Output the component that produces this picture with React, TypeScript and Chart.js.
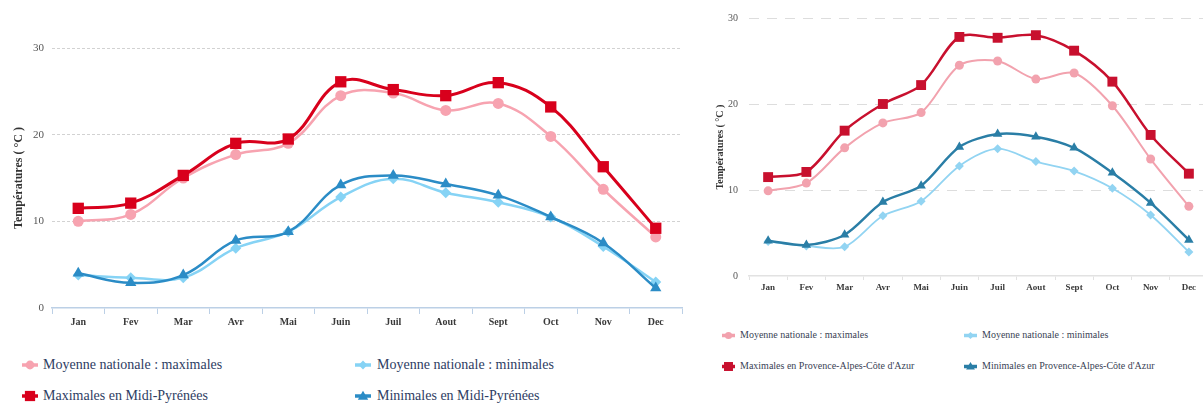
import React, { useEffect, useRef } from "react";
import { Chart, registerables } from "chart.js";
Chart.register(...registerables);

const months = ["Jan", "Fev", "Mar", "Avr", "Mai", "Juin", "Juil", "Aout", "Sept", "Oct", "Nov", "Dec"];
const yTicks = [0, 10, 20, 30];
const yTitle = "Températures ( °C )";

// Left chart: Midi-Pyrénées
const natMaxLeft = [10.0, 10.8, 15.0, 17.7, 19.0, 24.5, 24.8, 22.8, 23.6, 19.8, 13.7, 8.2];
const natMinLeft = [3.8, 3.5, 3.5, 6.9, 8.8, 12.8, 14.9, 13.3, 12.2, 10.5, 7.1, 3.0];
const midiMax = [11.5, 12.1, 15.3, 19.0, 19.5, 26.1, 25.2, 24.5, 26.0, 23.2, 16.3, 9.2];
const midiMin = [4.0, 2.9, 3.8, 7.8, 8.8, 14.2, 15.3, 14.3, 13.0, 10.5, 7.5, 2.3];
const leftLabels = [
  "Moyenne nationale : maximales",
  "Moyenne nationale : minimales",
  "Maximales en Midi-Pyrénées",
  "Minimales en Midi-Pyrénées",
];

// Right chart: Provence-Alpes-Côte d'Azur
const natMaxRight = [9.9, 10.8, 14.9, 17.8, 19.0, 24.5, 25.0, 22.9, 23.6, 19.8, 13.6, 8.1];
const natMinRight = [4.0, 3.5, 3.4, 7.0, 8.7, 12.8, 14.8, 13.3, 12.2, 10.2, 7.1, 2.8];
const pacaMax = [11.5, 12.1, 16.9, 20.0, 22.2, 27.8, 27.7, 28.0, 26.2, 22.6, 16.4, 11.9];
const pacaMin = [4.1, 3.6, 4.8, 8.6, 10.5, 15.0, 16.5, 16.2, 14.9, 12.0, 8.5, 4.2];
const rightLabels = [
  "Moyenne nationale : maximales",
  "Moyenne nationale : minimales",
  "Maximales en Provence-Alpes-Côte d'Azur",
  "Minimales en Provence-Alpes-Côte d'Azur",
];

const FONT = "'Liberation Serif', 'DejaVu Serif', serif";

type Style = {
  color: string;
  width: number;
  shape: string;
  radius: number;
};

type ChartProps = {
  left: number;
  top: number;
  width: number;
  height: number;
  clipWidth: number;
  series: number[][];
  labels: string[];
  styles: Style[];
  yAxisWidth: number;
  xAxisHeight: number;
  padTop: number;
  padRight: number;
  tension: number;
  gridDash: number[];
  gridColor: string;
  axisColor: string;
  tickFont: number;
  titleFont: number;
  titlePad: number;
  yPad: number;
  xTickLen: number;
};

function LineChart(p: ChartProps) {
  const ref = useRef<HTMLCanvasElement | null>(null);
  useEffect(() => {
    if (!ref.current) return;
    // draw order: regional series on top of national ones
    const order = [2, 3, 0, 1];
    const datasets = order.map((i) => ({
      label: p.labels[i],
      data: p.series[i],
      borderColor: p.styles[i].color,
      backgroundColor: p.styles[i].color,
      borderWidth: p.styles[i].width,
      pointStyle: p.styles[i].shape as any,
      pointRadius: p.styles[i].radius,
      pointBorderWidth: 0,
      tension: p.tension,
      fill: false,
    }));
    const chart = new Chart(ref.current, {
      type: "line",
      data: { labels: months, datasets },
      options: {
        animation: false,
        responsive: false,
        maintainAspectRatio: false,
        layout: { padding: { top: p.padTop, right: p.padRight, left: 0, bottom: 0 } },
        plugins: { legend: { display: false }, tooltip: { enabled: false } },
        scales: {
          x: {
            offset: true,
            grid: {
              offset: true,
              drawOnChartArea: false,
              drawTicks: true,
              tickLength: p.xTickLen,
              color: p.axisColor,
            },
            border: { display: true, color: p.axisColor, width: 1.5 },
            ticks: {
              color: "#3a3a3a",
              font: { family: FONT, size: p.tickFont, weight: "bold" },
              padding: 2,
              maxRotation: 0,
              autoSkip: false,
            },
            afterFit: (s: any) => {
              s.height = p.xAxisHeight;
            },
          },
          y: {
            min: yTicks[0],
            max: yTicks[yTicks.length - 1],
            afterBuildTicks: (s: any) => {
              s.ticks = yTicks.map((v) => ({ value: v }));
            },
            grid: {
              drawTicks: false,
              color: (ctx: any) => (ctx.tick && ctx.tick.value === 0 ? "rgba(0,0,0,0)" : p.gridColor),
              lineWidth: 1,
            },
            border: { display: false, dash: p.gridDash },
            ticks: {
              color: "#555",
              font: { family: FONT, size: p.tickFont + 1 },
              padding: p.yPad,
            },
            title: {
              display: true,
              text: yTitle,
              color: "#333",
              font: { family: FONT, size: p.titleFont, weight: "bold" },
              padding: { top: p.titlePad, bottom: 0 },
            },
            afterFit: (s: any) => {
              s.width = p.yAxisWidth;
            },
          },
        },
      },
    });
    return () => chart.destroy();
  }, []);
  return (
    <div
      style={{
        position: "absolute",
        left: p.left,
        top: p.top,
        width: p.clipWidth,
        height: p.height,
        overflow: "hidden",
      }}
    >
      <canvas ref={ref} width={p.width} height={p.height} style={{ width: p.width, height: p.height, display: "block" }} />
    </div>
  );
}

function Marker({ s, size }: { s: Style; size: number }) {
  const c = size / 2;
  const r = s.radius * 0.8;
  let shape: any = null;
  if (s.shape === "circle") shape = <circle cx={c} cy={c} r={r} fill={s.color} />;
  else if (s.shape === "rect")
    shape = <rect x={c - r * 0.8} y={c - r * 0.8} width={r * 1.6} height={r * 1.6} fill={s.color} />;
  else if (s.shape === "rectRot")
    shape = <polygon points={`${c},${c - r} ${c + r},${c} ${c},${c + r} ${c - r},${c}`} fill={s.color} />;
  else
    shape = (
      <polygon points={`${c},${c - r} ${c + r},${c + r * 0.7} ${c - r},${c + r * 0.7}`} fill={s.color} />
    );
  return (
    <svg width={size} height={size} style={{ position: "absolute", left: -size / 2, top: -size / 2 }}>
      <line x1={0} y1={c} x2={size} y2={c} stroke={s.color} strokeWidth={3.5} />
      {shape}
    </svg>
  );
}

type LegendPos = { x: number; y: number; tx: number };

function Legend({
  labels,
  styles,
  pos,
  font,
  color,
  size,
}: {
  labels: string[];
  styles: Style[];
  pos: LegendPos[];
  font: number;
  color: string;
  size: number;
}) {
  return (
    <>
      {labels.map((l, i) => (
        <div key={i}>
          <div style={{ position: "absolute", left: pos[i].x, top: pos[i].y }}>
            <Marker s={styles[i]} size={size} />
          </div>
          <div
            style={{
              position: "absolute",
              left: pos[i].tx,
              top: pos[i].y - font * 0.6,
              fontFamily: FONT,
              fontSize: font,
              color,
              whiteSpace: "nowrap",
              lineHeight: `${font * 1.2}px`,
            }}
          >
            {l}
          </div>
        </div>
      ))}
    </>
  );
}

const leftStyles: Style[] = [
  { color: "#f7a3b0", width: 2.5, shape: "circle", radius: 5.5 },
  { color: "#86d3f5", width: 2.5, shape: "rectRot", radius: 5.5 },
  { color: "#d8001c", width: 3, shape: "rect", radius: 8 },
  { color: "#2b8cc6", width: 2.5, shape: "triangle", radius: 6.5 },
];
const rightStyles: Style[] = [
  { color: "#f2a2ae", width: 2, shape: "circle", radius: 4.5 },
  { color: "#92d4f2", width: 1.8, shape: "rectRot", radius: 4.5 },
  { color: "#c8102e", width: 2.5, shape: "rect", radius: 7 },
  { color: "#2a7ea6", width: 2.5, shape: "triangle", radius: 5.5 },
];

export default function App() {
  return (
    <div style={{ position: "absolute", left: 0, top: 0, width: 1203, height: 405, background: "#fff", overflow: "hidden" }}>
      <LineChart
        left={0}
        top={0}
        width={690}
        height={340}
        clipWidth={690}
        series={[natMaxLeft, natMinLeft, midiMax, midiMin]}
        labels={leftLabels}
        styles={leftStyles}
        yAxisWidth={52}
        xAxisHeight={32}
        padTop={48}
        padRight={7}
        tension={0.4}
        gridDash={[3, 2]}
        gridColor="#d2d2d2"
        axisColor="#bcd0e6"
        tickFont={10}
        titleFont={12}
        titlePad={12}
        yPad={8}
        xTickLen={6}
      />
      <Legend
        labels={leftLabels}
        styles={leftStyles}
        font={14}
        color="#2e3d63"
        size={16}
        pos={[
          { x: 30, y: 365, tx: 43 },
          { x: 363, y: 365, tx: 377 },
          { x: 30, y: 396, tx: 43 },
          { x: 363, y: 396, tx: 377 },
        ]}
      />
      <LineChart
        left={700}
        top={0}
        width={515}
        height={300}
        clipWidth={503}
        series={[natMaxRight, natMinRight, pacaMax, pacaMin]}
        labels={rightLabels}
        styles={rightStyles}
        yAxisWidth={49}
        xAxisHeight={24}
        padTop={18}
        padRight={0}
        tension={0.3}
        gridDash={[10, 8]}
        gridColor="#dddddd"
        axisColor="#e2e2e2"
        tickFont={9}
        titleFont={10}
        titlePad={14}
        yPad={11}
        xTickLen={4}
      />
      <Legend
        labels={rightLabels}
        styles={rightStyles}
        font={10}
        color="#3a3f55"
        size={13}
        pos={[
          { x: 728, y: 335, tx: 740 },
          { x: 970, y: 335, tx: 982 },
          { x: 728, y: 366, tx: 740 },
          { x: 970, y: 366, tx: 982 },
        ]}
      />
    </div>
  );
}
